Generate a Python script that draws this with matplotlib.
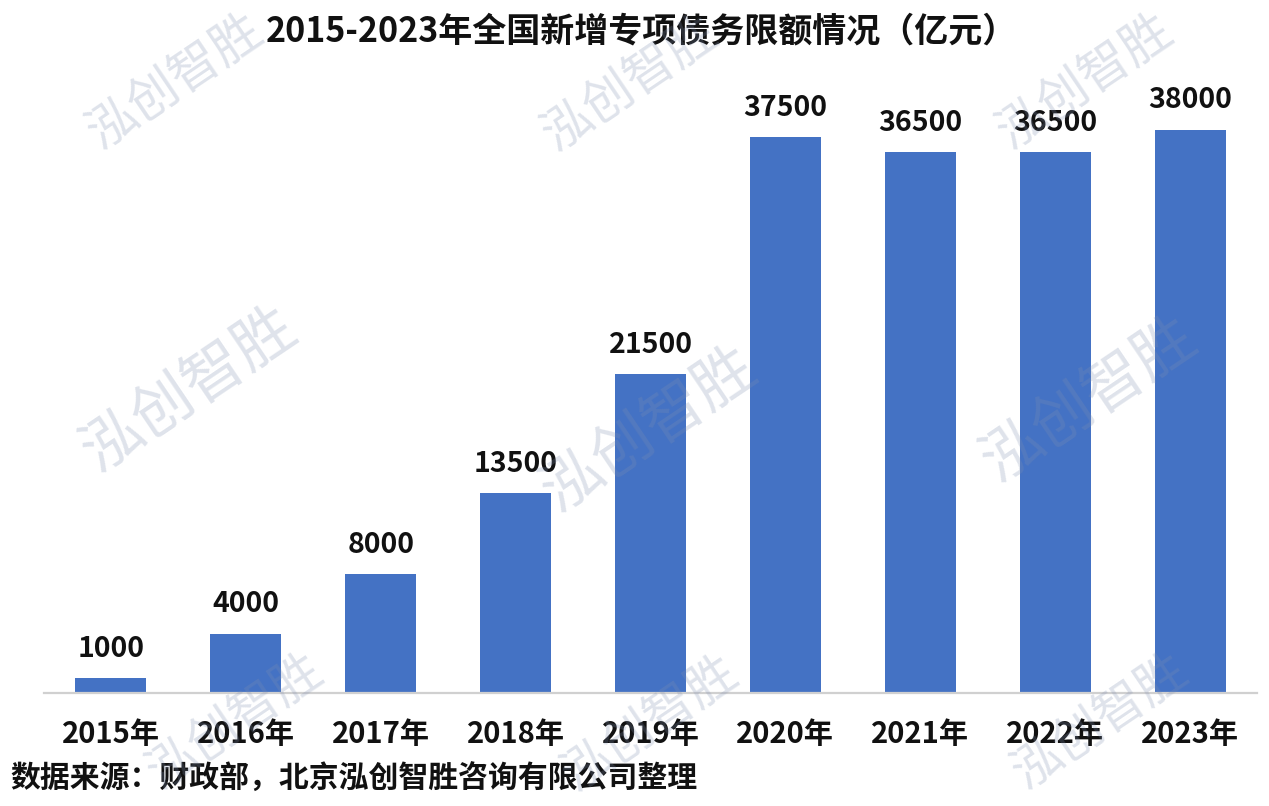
import matplotlib
matplotlib.use("Agg")
import matplotlib.pyplot as plt

plt.rcParams['font.family'] = ['Noto Sans CJK SC', 'DejaVu Sans']

years = ["2015年", "2016年", "2017年", "2018年", "2019年", "2020年", "2021年", "2022年", "2023年"]
values = [1000, 4000, 8000, 13500, 21500, 37500, 36500, 36500, 38000]
title = "2015-2023年全国新增专项债务限额情况（亿元）"
source = "数据来源：财政部，北京泓创智胜咨询有限公司整理"
watermark = "泓创智胜"

W, H = 1269, 806
fig = plt.figure(figsize=(W / 100, H / 100), dpi=100)
ax_left, ax_right = 43.5, 1257.5
ax_bottom, ax_top = 693, 100
ax = fig.add_axes([ax_left / W, 1 - ax_bottom / H, (ax_right - ax_left) / W, (ax_bottom - ax_top) / H])

x = list(range(len(years)))
bars = ax.bar(x, values, width=0.526, color="#4472C4", zorder=2)
ax.set_xlim(-0.5, len(years) - 0.5)
ax.set_ylim(0, 40000)

for xi, v in zip(x, values):
    ax.annotate(f"{v}", (xi, v), xytext=(0, 11), textcoords="offset points",
                ha="center", va="bottom", fontsize=20.5, fontweight="heavy", color="#111111")

for s in ["top", "right", "left"]:
    ax.spines[s].set_visible(False)
ax.spines["bottom"].set_color("#d0d0d0")
ax.spines["bottom"].set_linewidth(1.6)
ax.set_yticks([])
ax.set_xticks(x)
ax.set_xticklabels(years, fontsize=21, fontweight="heavy", color="#111111")
ax.tick_params(axis="x", length=0, pad=19)

fig.text(641 / W, 1 - 31 / H, title, ha="center", va="center", fontsize=24.5, fontweight="heavy", color="#111111")
fig.text(10 / W, 1 - 779 / H, source, ha="left", va="center", fontsize=21.5, fontweight="heavy", color="#111111")

# watermarks: (x px, y px, size pt)
wm_pos = [(175, 82, 36), (630, 84, 36), (1085, 82, 36),
          (190, 390, 44), (650, 430, 44), (1090, 400, 44),
          (235, 722, 36), (650, 724, 36), (1100, 722, 36)]
for px, py, fs in wm_pos:
    fig.text(px / W, 1 - py / H, watermark, ha="center", va="center", rotation=34,
             fontsize=fs, color="#7f8fb0", alpha=0.25, zorder=10)

fig.savefig("out.png", dpi=100)
